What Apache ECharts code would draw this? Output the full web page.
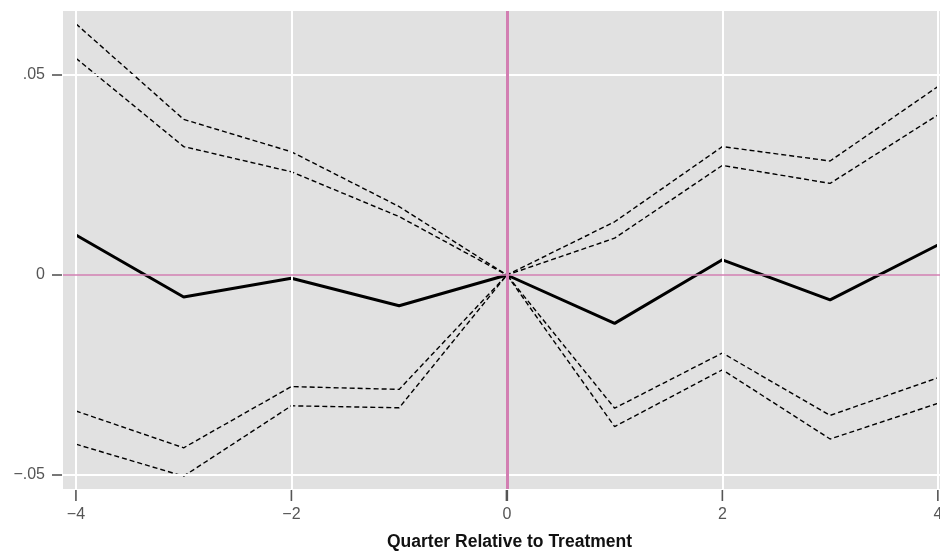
<!DOCTYPE html>
<html>
<head>
<meta charset="utf-8">
<script src="https://cdn.jsdelivr.net/npm/echarts@6/dist/echarts.min.js"></script>
<style>html,body{margin:0;padding:0;background:#fff;}#c{width:940px;height:557px;}</style>
</head>
<body>
<div id="c"></div>
<script>
const quarters = [-4, -3, -2, -1, 0, 1, 2, 3, 4];
const estimate = [0.0100, -0.0055, -0.0008, -0.0077, 0, -0.0121, 0.0038, -0.0062, 0.0075];
const upperOuter = [0.0628, 0.0389, 0.0308, 0.0171, 0, 0.0133, 0.0321, 0.0285, 0.0471];
const upperInner = [0.0542, 0.0321, 0.0258, 0.0146, 0, 0.0092, 0.0274, 0.0229, 0.0400];
const lowerInner = [-0.0340, -0.0432, -0.0279, -0.0286, 0, -0.0333, -0.0195, -0.0351, -0.0257];
const lowerOuter = [-0.0423, -0.0503, -0.0327, -0.0332, 0, -0.0379, -0.0237, -0.0410, -0.0321];
const xTicks = [-4, -2, 0, 2, 4];
const yTicks = [-0.05, 0, 0.05];
const yTickLabels = ['\u2212.05', '0', '.05'];
const xTitle = 'Quarter Relative to Treatment';

const X_MIN = -4.12, X_MAX = 4.02, Y_MIN = -0.0535, Y_MAX = 0.066;
const pairs = arr => quarters.map((q, i) => [q, arr[i]]);
const chart = echarts.init(document.getElementById('c'), null, {renderer: 'canvas'});
const white = {color: '#ffffff', width: 2, type: 'solid'};
const pink = '#d27fb2';
const gridLines = [];
xTicks.forEach(v => { if (v !== 0) gridLines.push({xAxis: v, lineStyle: white}); });
yTicks.forEach(v => { if (v !== 0) gridLines.push({yAxis: v, lineStyle: white}); });
gridLines.push({yAxis: 0, lineStyle: {color: pink, width: 1.5, type: 'solid'}});
gridLines.push({xAxis: 0, lineStyle: {color: pink, width: 3, type: 'solid'}});

const dashed = (arr) => ({
  type: 'line', data: pairs(arr), symbol: 'none', z: 3, silent: true,
  lineStyle: {color: '#000', width: 1.4, type: [5, 3]}
});
const font = 'Liberation Sans, Arial, sans-serif';
const tickStyle = {stroke: '#555', lineWidth: 1.6};

chart.setOption({
  animation: false,
  grid: {left: 63, right: 0, top: 11, bottom: 68, show: true, backgroundColor: '#e1e1e1', borderWidth: 0,
         outerBoundsMode: 'none', containLabel: false},
  xAxis: {
    type: 'value', min: X_MIN, max: X_MAX, offset: 1,
    axisLine: {show: false},
    axisTick: {show: false},
    axisLabel: {show: true, customValues: xTicks, margin: 17, color: '#555', fontSize: 16, fontFamily: font,
      formatter: v => (v < 0 ? '\u2212' + Math.abs(v) : String(v))},
    splitLine: {show: false},
    name: xTitle, nameLocation: 'middle', nameGap: 43,
    nameTextStyle: {color: '#111', fontSize: 17.5, fontWeight: 'bold', fontFamily: font, padding: [0, 0, 0, 16]}
  },
  yAxis: {
    type: 'value', min: Y_MIN, max: Y_MAX, offset: 1,
    axisLine: {show: false},
    axisTick: {show: false},
    axisLabel: {show: true, customValues: yTicks, margin: 17, color: '#555', fontSize: 16, fontFamily: font,
      formatter: v => { const i = yTicks.findIndex(t => Math.abs(t - v) < 1e-9); return i >= 0 ? yTickLabels[i] : ''; }},
    splitLine: {show: false}
  },
  series: [
    {type: 'line', data: [], z: 1, silent: true,
     markLine: {silent: true, symbol: 'none', label: {show: false}, animation: false, data: gridLines}},
    {type: 'custom', silent: true, clip: false, z: 2, data: xTicks.map(v => [v, Y_MIN]),
     renderItem: (params, api) => {
       const p = api.coord([api.value(0), api.value(1)]);
       return {type: 'line', shape: {x1: p[0], y1: p[1] + 1, x2: p[0], y2: p[1] + 12},
               style: Object.assign({}, tickStyle, {lineWidth: api.value(0) === 0 ? 2.5 : 1.6})};
     }},
    {type: 'custom', silent: true, clip: false, z: 2, data: yTicks.map(v => [X_MIN, v]),
     renderItem: (params, api) => {
       const p = api.coord([api.value(0), api.value(1)]);
       return {type: 'line', shape: {x1: p[0] - 1, y1: p[1], x2: p[0] - 11, y2: p[1]}, style: tickStyle};
     }},
    dashed(upperOuter),
    dashed(upperInner),
    dashed(lowerInner),
    dashed(lowerOuter),
    {type: 'line', data: pairs(estimate), symbol: 'none', z: 4, silent: true,
     lineStyle: {color: '#000', width: 3}}
  ]
});
</script>
</body>
</html>
